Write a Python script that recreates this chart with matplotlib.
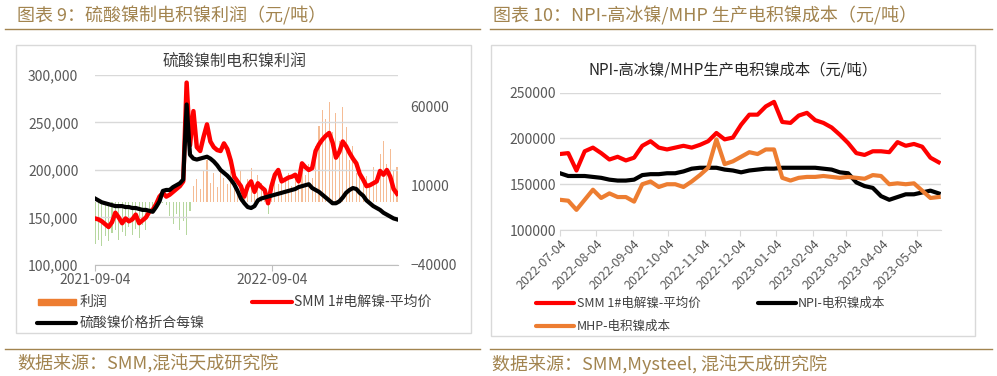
import numpy as np
import pandas as pd
import matplotlib
matplotlib.use('Agg')
import matplotlib.pyplot as plt
from matplotlib.lines import Line2D
from matplotlib.patches import Rectangle
from matplotlib.ticker import FuncFormatter
import matplotlib.dates as mdates

plt.rcParams['font.family'] = ['Noto Sans CJK SC', 'DejaVu Sans']

# ---- chart 9 data, weekly readings from 2021-09-04, thousand yuan/ton ----
left_start = '2021-09-04'
smm_ni_1 = [149, 148, 146, 143, 140, 145, 155, 150, 144, 149,
            146, 148, 153, 144, 147, 150, 156, 158, 164, 172,
            176, 172, 174, 177, 180, 183, 188, 292, 226, 262,
            224, 220, 235, 248, 230, 224, 221, 220, 228, 222,
            210, 193, 188, 183, 172, 183, 188, 177, 186, 182,
            179, 165, 183, 195, 200, 188, 190, 192, 193, 195,
            188, 207, 203, 200, 202, 220, 227, 232, 236, 239,
            229, 213, 219, 230, 225, 218, 212, 207, 196, 190,
            183, 184, 186, 188, 199, 195, 200, 193, 180, 175]
sulfate_ni = [170, 168, 166, 165, 164, 163, 162, 162, 162, 161,
              161, 160, 160, 159, 158, 158, 157, 156, 161, 167,
              178, 179, 179, 182, 184, 186, 190, 269, 216, 212,
              211, 212, 213, 214, 212, 209, 205, 200, 197, 194,
              190, 185, 178, 170, 165, 161, 160, 162, 168, 170,
              171, 172, 173, 174, 175, 176, 177, 178, 179, 180,
              182, 183, 184, 185, 181, 179, 177, 174, 171, 168,
              165, 165, 167, 171, 176, 179, 181, 180, 176, 173,
              168, 165, 162, 160, 158, 155, 153, 151, 149, 148]
profit = [-27, -24, -28, -22, -25, -20, -18, -24, -19, -22,
          -16, -21, -17, -23, -15, -18, -6, -3, -2, -1,
          -1, -2, -9, -14, -8, -18, -12, -21, -6, 10,
          14, 8, 20, 26, 12, 18, 9, 22, 15, 11,
          24, 16, 8, 20, 4, 14, 21, 10, 17, 12,
          6, -8, 14, 18, 11, 16, 13, 18, 10, 15,
          12, 20, 17, 24, 15, 35, 48, 58, 52, 63,
          44, 56, 38, 60, 47, 26, 35, 18, 20, 12,
          16, 9, 22, 14, 30, 38, 24, 33, 20, 22]

# ---- chart 10 data, weekly readings from 2022-07-04, thousand yuan/ton ----
right_start = '2022-07-04'
smm_ni_2 = [183, 184, 165, 186, 190, 184, 177, 180, 176, 179,
            192, 197, 190, 188, 190, 192, 190, 193, 197, 206,
            199, 201, 215, 226, 226, 235, 240, 218, 217, 225,
            228, 220, 217, 212, 204, 195, 184, 182, 186, 186,
            185, 196, 192, 194, 191, 179, 174]
npi_cost = [162, 159, 159, 159, 158, 157, 155, 154, 154, 155,
            160, 161, 161, 162, 162, 164, 167, 168, 168, 168,
            166, 165, 163, 165, 166, 167, 167, 168, 168, 168,
            168, 168, 167, 166, 163, 162, 152, 148, 146, 137,
            133, 136, 139, 139, 141, 143, 140]
mhp_cost = [133, 132, 122, 133, 144, 135, 140, 136, 136, 131,
            150, 153, 147, 150, 150, 147, 153, 160, 168, 199,
            172, 175, 180, 185, 183, 188, 188, 157, 154, 157,
            158, 158, 159, 158, 157, 158, 157, 156, 160, 159,
            150, 151, 150, 151, 143, 135, 136]

W, H = 997, 376
gold = '#A2844F'
grey = '#595959'
red = '#FF0000'
orange = '#ED7D31'

fig = plt.figure(figsize=(W / 100, H / 100), dpi=100)


def box(x0, y0, x1, y1):
    # pixel box (top-left origin) -> figure fraction rect
    return [x0 / W, 1 - y1 / H, (x1 - x0) / W, (y1 - y0) / H]


def fline(x0, x1, y, **kw):
    fig.add_artist(Line2D([x0 / W, x1 / W], [1 - y / H] * 2, **kw))


def ftext(x, y, s, **kw):
    fig.text(x / W, 1 - y / H, s, va='center', **kw)


# headers, rules, footers
ftext(17, 16, '图表 9：硫酸镍制电积镍利润（元/吨）', color=gold, fontsize=13)
ftext(493, 16, '图表 10：NPI-高冰镍/MHP 生产电积镍成本（元/吨）', color=gold, fontsize=13)
for x0, x1 in [(5, 480), (490, 992)]:
    fline(x0, x1, 29, color=gold, lw=1)
    fline(x0, x1, 349, color=gold, lw=1)
ftext(17, 363, '数据来源：SMM,混沌天成研究院', color=gold, fontsize=13)
ftext(492, 364, '数据来源：SMM,Mysteel, 混沌天成研究院', color=gold, fontsize=13)

# chart frames
for x0, y0, x1, y1 in [(16, 45, 471, 333), (491, 45, 975, 336)]:
    r = box(x0, y0, x1, y1)
    fig.add_artist(Rectangle((r[0], r[1]), r[2], r[3], fill=False,
                             ec='#d9d9d9', lw=1, transform=fig.transFigure))

# ---------------- chart 9 ----------------
d1 = pd.date_range(left_start, periods=len(smm_ni_1), freq='7D')
p = np.array(profit) * 1000

ax1 = fig.add_axes(box(95, 75, 398, 265))
ax1b = ax1.twinx()
ax1b.bar(d1, p, width=2.2, color=np.where(p >= 0, '#F4B183', '#A9D18E'), lw=0, alpha=0.85)
ax1b.set_ylim(-40000, 80000)
ax1b.set_yticks([-40000, 10000, 60000])

ax1.plot(d1, np.array(sulfate_ni) * 1000, color='black', lw=3.0, zorder=3)
ax1.plot(d1, np.array(smm_ni_1) * 1000, color=red, lw=3.2, zorder=2)
ax1.set_zorder(ax1b.get_zorder() + 1)
ax1.patch.set_visible(False)
ax1.set_ylim(100000, 300000)
ax1.set_yticks(np.arange(100000, 300001, 50000))
ax1.yaxis.set_major_formatter(FuncFormatter(lambda v, pos: f'{v:,.0f}'))
ax1.set_xlim(pd.Timestamp(left_start), d1[-1] + pd.Timedelta(days=2))
ax1.set_xticks([pd.Timestamp('2021-09-04'), pd.Timestamp('2022-09-04')])
ax1.xaxis.set_major_formatter(mdates.DateFormatter('%Y-%m-%d'))
ax1.grid(axis='y', color='#d9d9d9', lw=1)
ax1.set_axisbelow(True)

for a in (ax1, ax1b):
    for s in a.spines.values():
        s.set_visible(False)
ax1.spines['bottom'].set_visible(True)
ax1.spines['bottom'].set_color('#bfbfbf')
ax1.tick_params(axis='y', length=0, pad=12, labelsize=10, labelcolor=grey)
ax1b.tick_params(axis='y', length=0, pad=9, labelsize=10, labelcolor=grey)
ax1.tick_params(axis='x', length=4, color='#bfbfbf', pad=2, labelsize=10, labelcolor=grey)

ftext(235, 62, '硫酸镍制电积镍利润', ha='center', fontsize=11.5, color='#404040')

# legend of chart 9
fig.add_artist(Rectangle((38 / W, 1 - 305 / H), 38 / W, 6 / H, color=orange,
                         transform=fig.transFigure))
ftext(80, 302, '利润', fontsize=10, color='#404040')
fline(252, 292, 302, color=red, lw=3, solid_capstyle='round')
ftext(294, 302, 'SMM 1#电解镍-平均价', fontsize=10, color='#404040')
fline(37, 76, 323, color='black', lw=3, solid_capstyle='round')
ftext(80, 323, '硫酸镍价格折合每镍', fontsize=10, color='#404040')

# ---------------- chart 10 ----------------
d2 = pd.date_range(right_start, periods=len(smm_ni_2), freq='7D')

ax2 = fig.add_axes(box(560, 92.7, 941, 230))
ax2.plot(d2, np.array(smm_ni_2) * 1000, color=red, lw=3, zorder=3)
ax2.plot(d2, np.array(npi_cost) * 1000, color='black', lw=3, zorder=3)
ax2.plot(d2, np.array(mhp_cost) * 1000, color=orange, lw=3, zorder=3)
ax2.set_ylim(100000, 250000)
ax2.set_yticks(np.arange(100000, 250001, 50000))
ax2.set_xlim(pd.Timestamp(right_start), d2[-1] + pd.Timedelta(days=2))
month_ticks = pd.date_range('2022-07-01', '2023-05-01', freq='MS') + pd.Timedelta(days=3)
ax2.set_xticks(month_ticks)
ax2.xaxis.set_major_formatter(mdates.DateFormatter('%Y-%m-%d'))
ax2.grid(axis='y', color='#d9d9d9', lw=1)
ax2.set_axisbelow(True)
for s in ax2.spines.values():
    s.set_visible(False)
ax2.spines['bottom'].set_visible(True)
ax2.spines['bottom'].set_color('#d9d9d9')
ax2.tick_params(axis='y', length=0, pad=3, labelsize=10, labelcolor=grey)
ax2.tick_params(axis='x', length=4, color='#d9d9d9', pad=1, labelsize=9, labelcolor=grey)
for lbl in ax2.get_xticklabels():
    lbl.set_rotation(45)
    lbl.set_ha('right')
    lbl.set_rotation_mode('anchor')

ftext(733, 70, 'NPI-高冰镍/MHP生产电积镍成本（元/吨）', ha='center', fontsize=11, color='#262626')

# legend of chart 10
fline(536, 574, 303, color=red, lw=3, solid_capstyle='round')
ftext(577, 303, 'SMM 1#电解镍-平均价', fontsize=9, color='#404040')
fline(758, 796, 303, color='black', lw=3, solid_capstyle='round')
ftext(798, 303, 'NPI-电积镍成本', fontsize=9, color='#404040')
fline(536, 574, 326, color=orange, lw=3, solid_capstyle='round')
ftext(577, 326, 'MHP-电积镍成本', fontsize=9, color='#404040')

fig.savefig('out.png', dpi=100)
